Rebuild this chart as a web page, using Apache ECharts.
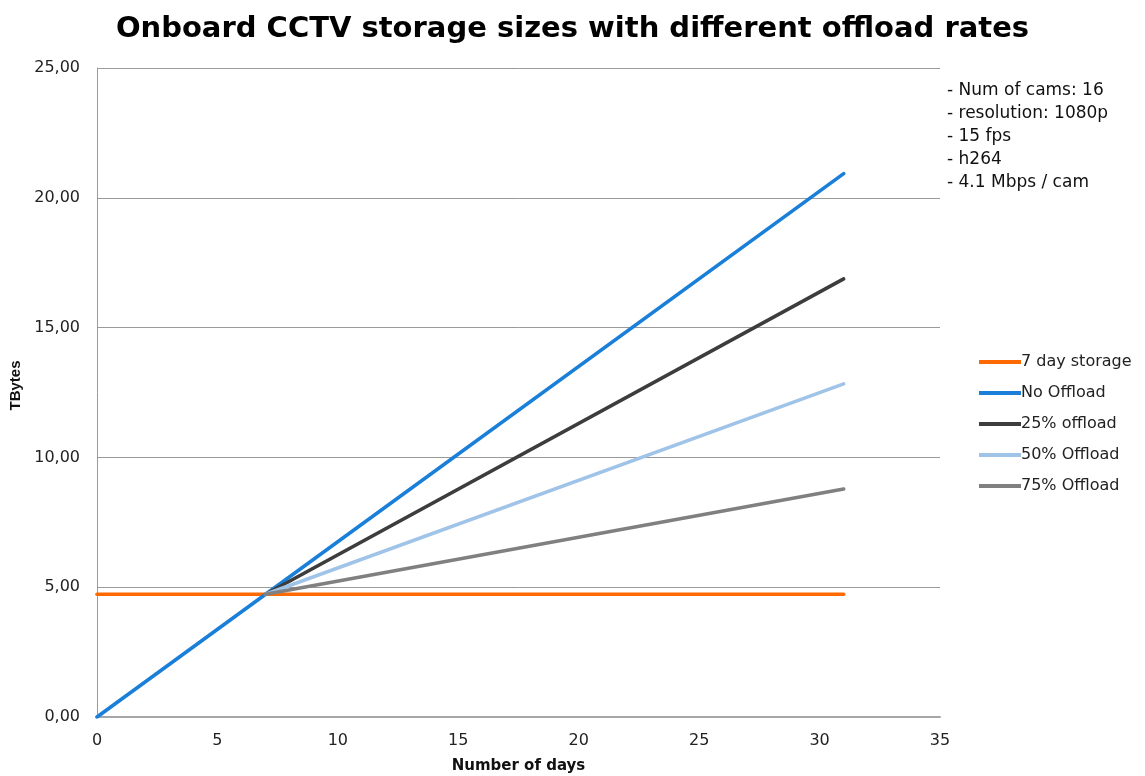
<!DOCTYPE html>
<html>
<head>
<meta charset="utf-8">
<script src="https://cdn.jsdelivr.net/npm/echarts@6/dist/echarts.min.js"></script>
<style>html,body{margin:0;padding:0;background:#fff}#c{width:1145px;height:776px}</style>
</head>
<body>
<div id="c"></div>
<script>
var seriesNames = ['7 day storage', 'No Offload', '25% offload', '50% Offload', '75% Offload'];
var storage7 = [[0, 4.73], [31, 4.73]];
var noOffload = [[0, 0], [7, 4.73], [31, 20.93]];
var offload25 = [[7, 4.73], [31, 16.88]];
var offload50 = [[7, 4.73], [31, 12.83]];
var offload75 = [[7, 4.73], [31, 8.78]];
var notes = ['- Num of cams: 16', '- resolution: 1080p', '- 15 fps', '- h264', '- 4.1 Mbps / cam'];
var colors = ['#ff6a00', '#1a7fd8', '#3d3d3d', '#a0c4e8', '#808080'];

var data = [storage7, noOffload, offload25, offload50, offload75];
var chart = echarts.init(document.getElementById('c'));
var font = 'DejaVu Sans, sans-serif';
chart.setOption({
  animation: false,
  color: colors,
  title: {
    text: 'Onboard CCTV storage sizes with different offload rates',
    left: 'center', top: 10,
    textStyle: {fontFamily: font, fontSize: 29, fontWeight: 'bold', color: '#000'}
  },
  grid: {left: 97, right: 205, top: 68, bottom: 59, containLabel: false, outerBoundsMode: 'none'},
  legend: {
    orient: 'vertical', left: 974, top: 349,
    icon: 'rect', itemWidth: 42, itemHeight: 4, itemGap: 15,
    data: seriesNames,
    textStyle: {fontFamily: font, fontSize: 16, color: '#222', padding: [0, 0, 0, -5]}
  },
  graphic: [{
    type: 'text', left: 947, top: 79,
    style: {text: notes.join('\n'), fontFamily: font, fontSize: 17, lineHeight: 23, fill: '#111'}
  }],
  xAxis: {
    type: 'value', min: 0, max: 35, interval: 5,
    name: 'Number of days', nameLocation: 'middle', nameGap: 42,
    nameTextStyle: {fontFamily: font, fontSize: 15, fontWeight: 'bold', color: '#111'},
    axisLine: {lineStyle: {color: '#a6a6a6', width: 2}},
    axisTick: {show: false},
    splitLine: {show: false},
    axisLabel: {fontFamily: font, fontSize: 16, color: '#222', margin: 16}
  },
  yAxis: {
    type: 'value', min: 0, max: 25, interval: 5,
    name: 'TBytes', nameLocation: 'middle', nameGap: 74,
    nameTextStyle: {fontFamily: 'Liberation Sans, Arial, sans-serif', fontSize: 15, fontWeight: 'bold', color: '#111', padding: [0, 0, 0, 14]},
    axisLine: {show: true, lineStyle: {color: '#9a9a9a', width: 1}},
    axisTick: {show: false},
    splitLine: {lineStyle: {color: '#9a9a9a', width: 1}},
    axisLabel: {fontFamily: font, fontSize: 16, color: '#222', margin: 17,
      formatter: function (v) { return v.toFixed(2).replace('.', ','); }}
  },
  series: seriesNames.map(function (n, i) {
    return {
      name: n, type: 'line', data: data[i], symbol: 'none',
      lineStyle: {width: 3.6, color: colors[i], cap: 'round'}, z: i === 0 ? 3 : 2 + i
    };
  })
});
</script>
</body>
</html>
